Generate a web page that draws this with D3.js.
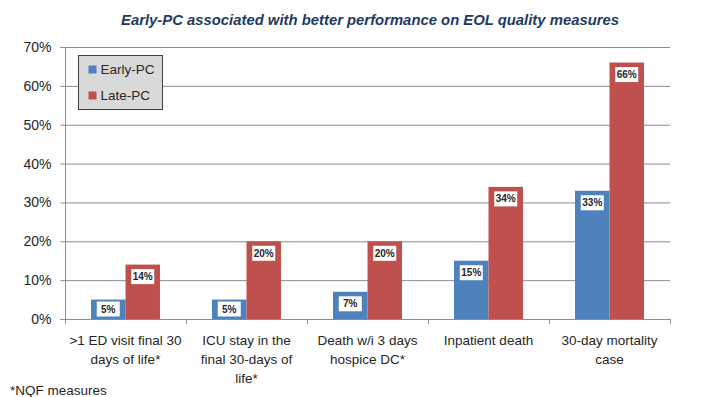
<!DOCTYPE html>
<html>
<head>
<meta charset="utf-8">
<script src="https://cdn.jsdelivr.net/npm/d3@7"></script>
<style>
  body { margin: 0; background: #fff; }
  svg text { font-family: "Liberation Sans", Arial, sans-serif; }
</style>
</head>
<body>
<svg id="chart" width="705" height="397"></svg>
<script>
var categories = [
    [">1 ED visit final 30", "days of life*"],
    ["ICU stay in the", "final 30-days of", "life*"],
    ["Death w/i 3 days", "hospice DC*"],
    ["Inpatient death"],
    ["30-day mortality", "case"]
];
var seriesNames = ["Early-PC", "Late-PC"];
var earlyPC = [5, 5, 7, 15, 33];
var latePC = [14, 20, 20, 34, 66];
var yTicks = [0, 10, 20, 30, 40, 50, 60, 70];

var colors = ["#4f81bd", "#c0504d"];
var svg = d3.select("#chart");

var margin = {left: 65, right: 35, top: 47, bottom: 78};
var width = 705 - margin.left - margin.right;
var height = 397 - margin.top - margin.bottom;

var g = svg.append("g")
    .attr("transform", `translate(${margin.left},${margin.top})`);

var x0 = d3.scaleBand()
    .domain(d3.range(categories.length))
    .range([0, width])
    .padding(0);

var x1 = d3.scaleBand()
    .domain([0, 1])
    .range([x0.bandwidth() * 0.215, x0.bandwidth() * 0.785])
    .padding(0);

var y = d3.scaleLinear()
    .domain([0, 70])
    .range([height, 0]);

// gridlines
g.selectAll("line.grid")
    .data(yTicks.slice(1))
    .enter()
    .append("line")
    .attr("class", "grid")
    .attr("x1", 0)
    .attr("x2", width)
    .attr("y1", d => y(d) + 0.5)
    .attr("y2", d => y(d) + 0.5)
    .attr("stroke", "#8c8c8c")
    .attr("stroke-width", 1);

// y axis
var yAxis = d3.axisLeft(y)
    .tickValues(yTicks)
    .tickFormat(d => d + "%")
    .tickSize(5)
    .tickPadding(9);
var yG = g.append("g")
    .attr("transform", "translate(0.5,0)")
    .call(yAxis);
yG.select(".domain").attr("stroke", "#8c8c8c").attr("d", `M-5,0.5H0V${height + 0.5}H-5`);
yG.selectAll(".tick line").attr("stroke", "#8c8c8c");
yG.selectAll(".tick text")
    .attr("font-size", 14)
    .attr("fill", "#262626")
    .style("font-family", "'Liberation Sans', Arial, sans-serif");

// x axis
g.append("line")
    .attr("x1", 0).attr("x2", width)
    .attr("y1", height + 0.5).attr("y2", height + 0.5)
    .attr("stroke", "#8c8c8c");
g.selectAll("line.xtick")
    .data(d3.range(categories.length + 1))
    .enter()
    .append("line")
    .attr("class", "xtick")
    .attr("x1", d => (d < categories.length ? x0(d) : width) + 0.5)
    .attr("x2", d => (d < categories.length ? x0(d) : width) + 0.5)
    .attr("y1", height)
    .attr("y2", height + 5)
    .attr("stroke", "#8c8c8c");

// category labels
var catG = g.selectAll("text.cat")
    .data(categories)
    .enter()
    .append("text")
    .attr("class", "cat")
    .attr("text-anchor", "middle")
    .attr("font-size", 13.5)
    .attr("fill", "#262626")
    .attr("x", (d, i) => x0(i) + x0.bandwidth() / 2)
    .attr("y", height + 26);
catG.selectAll("tspan")
    .data(d => d)
    .enter()
    .append("tspan")
    .attr("x", function () { return d3.select(this.parentNode).attr("x"); })
    .attr("dy", (d, i) => i === 0 ? 0 : 19)
    .text(d => d);

// bars
var rows = categories.map((c, i) => [earlyPC[i], latePC[i]]);
var groups = g.selectAll("g.group")
    .data(rows)
    .enter()
    .append("g")
    .attr("class", "group")
    .attr("transform", (d, i) => `translate(${x0(i)},0)`);

groups.selectAll("rect.bar")
    .data(d => d.map((v, s) => ({v: v, s: s})))
    .enter()
    .append("rect")
    .attr("class", "bar")
    .attr("x", d => x1(d.s))
    .attr("width", x1.bandwidth())
    .attr("y", d => y(d.v))
    .attr("height", d => height - y(d.v))
    .attr("fill", d => colors[d.s]);

// data labels
var lab = groups.selectAll("g.lab")
    .data(d => d.map((v, s) => ({v: v, s: s})))
    .enter()
    .append("g")
    .attr("class", "lab")
    .attr("transform", d => {
        var cy = Math.min(y(d.v) + 12, height - 10);
        return `translate(${x1(d.s) + x1.bandwidth() / 2},${cy})`;
    });
lab.append("rect")
    .attr("x", -11.5)
    .attr("y", -7.5)
    .attr("width", 23)
    .attr("height", 15)
    .attr("fill", "#ffffff");
lab.append("text")
    .attr("text-anchor", "middle")
    .attr("dy", "0.35em")
    .attr("font-size", 10)
    .attr("font-weight", "bold")
    .attr("fill", "#262626")
    .text(d => d.v + "%");

// legend
var leg = svg.append("g").attr("transform", "translate(78.5,55.5)");
leg.append("rect")
    .attr("width", 84)
    .attr("height", 54)
    .attr("fill", "#d9d9d9")
    .attr("stroke", "#404040");
var items = leg.selectAll("g.item")
    .data(seriesNames)
    .enter()
    .append("g")
    .attr("class", "item")
    .attr("transform", (d, i) => `translate(10,${14 + i * 26})`);
items.append("rect")
    .attr("x", 0).attr("y", -4)
    .attr("width", 8).attr("height", 8)
    .attr("fill", (d, i) => colors[i]);
items.append("text")
    .attr("x", 12)
    .attr("dy", "0.35em")
    .attr("font-size", 13.5)
    .attr("fill", "#262626")
    .text(d => d);

// title
svg.append("text")
    .attr("x", 370)
    .attr("y", 25)
    .attr("text-anchor", "middle")
    .attr("font-size", 15)
    .attr("font-weight", "bold")
    .attr("font-style", "italic")
    .attr("fill", "#1f3a60")
    .attr("textLength", 498)
    .attr("lengthAdjust", "spacingAndGlyphs")
    .text("Early-PC associated with better performance on EOL quality measures");

// footnote
svg.append("text")
    .attr("x", 10)
    .attr("y", 395)
    .attr("font-size", 13.5)
    .attr("fill", "#262626")
    .text("*NQF measures");
</script>
</body>
</html>
